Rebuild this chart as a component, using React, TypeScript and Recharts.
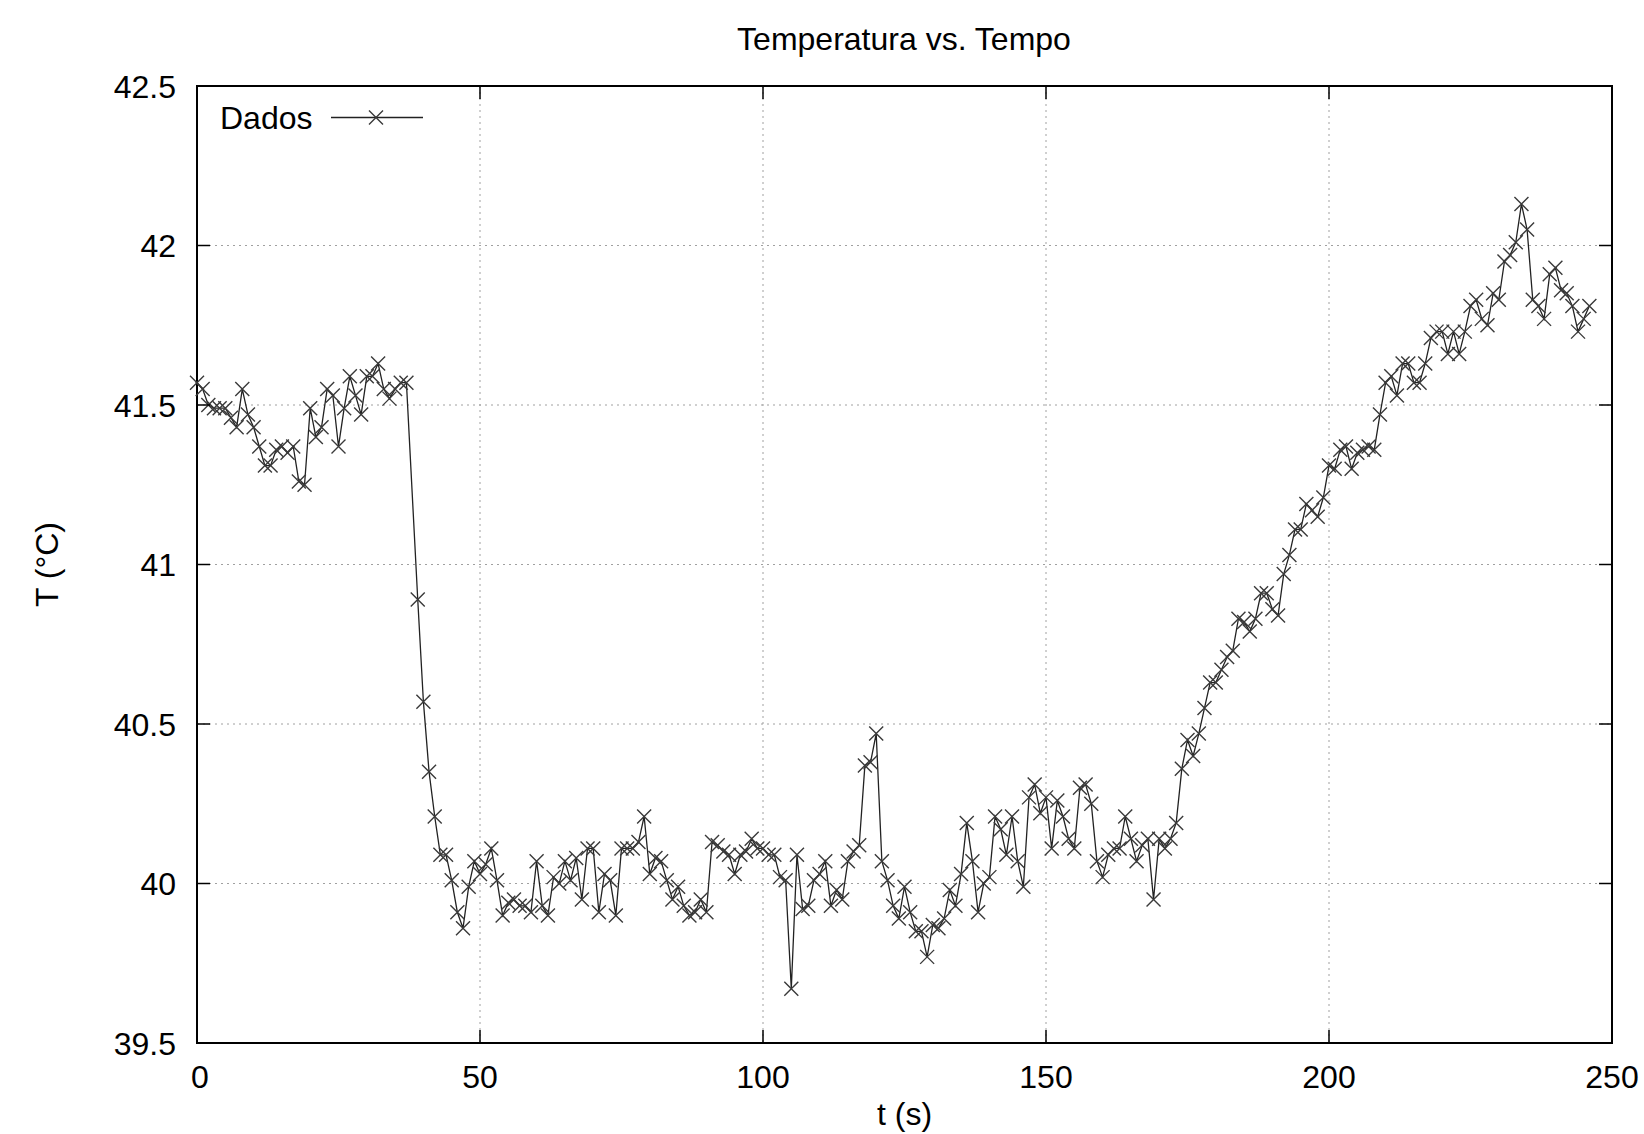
import React from 'react';
import { LineChart, Line, XAxis, YAxis, CartesianGrid, Legend, ReferenceArea } from 'recharts';

// temperature readings (°C), one per second; no sample at t = 38
const temps0to37 = [
  41.57, 41.55, 41.5, 41.49, 41.49, 41.49, 41.46, 41.43, 41.55, 41.47,
  41.43, 41.37, 41.31, 41.31, 41.36, 41.37, 41.35, 41.37, 41.26, 41.25,
  41.49, 41.4, 41.43, 41.55, 41.53, 41.37, 41.49, 41.59, 41.53, 41.47,
  41.59, 41.59, 41.63, 41.55, 41.52, 41.55, 41.57, 41.57,
];
const temps39to99 = [
  40.89, 40.57, 40.35, 40.21, 40.09, 40.09, 40.01, 39.91, 39.86, 39.99,
  40.07, 40.03, 40.06, 40.11, 40.01, 39.9, 39.94, 39.95, 39.93, 39.93,
  39.91, 40.07, 39.93, 39.9, 40.02, 40.0, 40.07, 40.01, 40.08, 39.95,
  40.11, 40.11, 39.91, 40.03, 40.01, 39.9, 40.11, 40.11, 40.11, 40.13,
  40.21, 40.03, 40.08, 40.07, 40.01, 39.95, 39.99, 39.93, 39.9, 39.91,
  39.95, 39.91, 40.13, 40.12, 40.1, 40.09, 40.03, 40.09, 40.1, 40.14,
  40.11,
];
const temps100to149 = [
  40.11, 40.09, 40.09, 40.02, 40.01, 39.67, 40.09, 39.92, 39.93, 40.01,
  40.03, 40.07, 39.93, 39.98, 39.95, 40.07, 40.1, 40.12, 40.37, 40.38,
  40.47, 40.07, 40.01, 39.93, 39.89, 39.99, 39.91, 39.85, 39.85, 39.77,
  39.87, 39.86, 39.89, 39.98, 39.93, 40.03, 40.19, 40.07, 39.91, 40.0,
  40.02, 40.21, 40.17, 40.09, 40.21, 40.07, 39.99, 40.27, 40.31, 40.22,
];
const temps150to199 = [
  40.27, 40.11, 40.26, 40.21, 40.14, 40.11, 40.3, 40.31, 40.25, 40.07,
  40.02, 40.09, 40.11, 40.11, 40.21, 40.14, 40.07, 40.12, 40.14, 39.95,
  40.14, 40.11, 40.14, 40.19, 40.36, 40.45, 40.4, 40.47, 40.55, 40.63,
  40.63, 40.67, 40.71, 40.73, 40.83, 40.82, 40.79, 40.83, 40.91, 40.91,
  40.86, 40.84, 40.97, 41.03, 41.11, 41.11, 41.19, 41.17, 41.15, 41.21,
];
const temps200to246 = [
  41.31, 41.3, 41.36, 41.37, 41.3, 41.35, 41.36, 41.37, 41.36, 41.47,
  41.57, 41.59, 41.53, 41.63, 41.63, 41.57, 41.57, 41.63, 41.71, 41.73,
  41.73, 41.66, 41.73, 41.66, 41.73, 41.81, 41.83, 41.77, 41.75, 41.85,
  41.83, 41.95, 41.97, 42.01, 42.13, 42.05, 41.83, 41.81, 41.77, 41.91,
  41.93, 41.86, 41.85, 41.81, 41.73, 41.77, 41.81,
];
const segmentStarts = [0, 39, 100, 150, 200];
const segments = [temps0to37, temps39to99, temps100to149, temps150to199, temps200to246];

const xTicks = [0, 50, 100, 150, 200, 250];
const yTicks = [39.5, 40, 40.5, 41, 41.5, 42, 42.5];

const data = segments.flatMap((temps, s) =>
  temps.map((T, i) => ({ t: segmentStarts[s] + i, T }))
);

const W = 1644;
const H = 1134;
const PLOT = { left: 197, top: 86, right: 1612, bottom: 1043 };
const FS = 32;
const TICK = 13;

const XTick = (props: any) => {
  const { x, payload } = props;
  return (
    <g>
      <line x1={x} x2={x} y1={PLOT.bottom} y2={PLOT.bottom - TICK} stroke="#000" strokeWidth={1.5} />
      <line x1={x} x2={x} y1={PLOT.top} y2={PLOT.top + TICK} stroke="#000" strokeWidth={1.5} />
      <text x={x + (payload.value === 0 ? 3 : 0)} y={1088} textAnchor="middle" fontSize={FS} fill="#000">
        {payload.value}
      </text>
    </g>
  );
};

const YTick = (props: any) => {
  const { y, payload } = props;
  return (
    <g>
      <line x1={PLOT.left} x2={PLOT.left + TICK} y1={y} y2={y} stroke="#000" strokeWidth={1.5} />
      <line x1={PLOT.right - TICK} x2={PLOT.right} y1={y} y2={y} stroke="#000" strokeWidth={1.5} />
      <text x={176} y={y} dy="0.36em" textAnchor="end" fontSize={FS} fill="#000">
        {payload.value}
      </text>
    </g>
  );
};

const Cross = (props: any) => {
  const { cx, cy, index } = props;
  if (cx == null || cy == null) return <g key={`c-${index}`} />;
  const r = 7;
  return (
    <path
      key={`c-${index}`}
      d={`M${cx - r},${cy - r}L${cx + r},${cy + r}M${cx - r},${cy + r}L${cx + r},${cy - r}`}
      stroke="#3a3a3a"
      strokeWidth={1.4}
      fill="none"
    />
  );
};

const LegendBox = () => (
  <svg width={260} height={40}>
    <text x={10} y={31} fontSize={FS} fill="#000">Dados</text>
    <line x1={121} x2={213} y1={19.5} y2={19.5} stroke="#222" strokeWidth={1.3} />
    <path d="M159,12.5L173,26.5M159,26.5L173,12.5" stroke="#3a3a3a" strokeWidth={1.4} />
  </svg>
);

export default function App() {
  return (
    <div
      style={{
        position: 'absolute',
        left: 0,
        top: 0,
        width: W,
        height: H,
        background: '#fff',
        fontFamily: '"Liberation Sans", Arial, Helvetica, sans-serif',
      }}
    >
      <div
        style={{
          position: 'absolute',
          left: 504,
          width: 800,
          top: 23,
          textAlign: 'center',
          fontSize: FS,
          lineHeight: `${FS}px`,
          color: '#000',
          zIndex: 2,
        }}
      >
        Temperatura vs. Tempo
      </div>
      <LineChart
        width={W}
        height={H}
        data={data}
        margin={{ top: PLOT.top, right: W - PLOT.right, left: 0, bottom: 0 }}
      >
        <CartesianGrid stroke="#a0a0a0" strokeDasharray="2 4" />
        <XAxis
          type="number"
          dataKey="t"
          domain={[0, 250]}
          ticks={xTicks}
          interval={0}
          tick={<XTick />}
          tickLine={false}
          axisLine={false}
          height={H - PLOT.bottom}
          label={{ value: 't (s)', position: 'insideBottom', offset: 9, fontSize: FS, fill: '#000' }}
        />
        <YAxis
          type="number"
          domain={[39.5, 42.5]}
          ticks={yTicks}
          interval={0}
          tick={<YTick />}
          tickLine={false}
          axisLine={false}
          width={PLOT.left}
          label={{
            value: 'T (°C)',
            angle: -90,
            position: 'insideLeft',
            offset: 47,
            fontSize: FS,
            fill: '#000',
            style: { textAnchor: 'middle' },
          }}
        />
        <Line
          type="linear"
          dataKey="T"
          name="Dados"
          stroke="#222"
          strokeWidth={1.3}
          dot={Cross}
          activeDot={false}
          isAnimationActive={false}
        />
        <ReferenceArea
          x1={0}
          x2={250}
          y1={39.5}
          y2={42.5}
          fill="none"
          stroke="#000"
          strokeWidth={2}
          ifOverflow="visible"
        />
        <Legend
          layout="vertical"
          align="center"
          verticalAlign="middle"
          wrapperStyle={{ top: 98, left: 210, width: 260, height: 40 }}
          content={() => <LegendBox />}
        />
      </LineChart>
    </div>
  );
}
